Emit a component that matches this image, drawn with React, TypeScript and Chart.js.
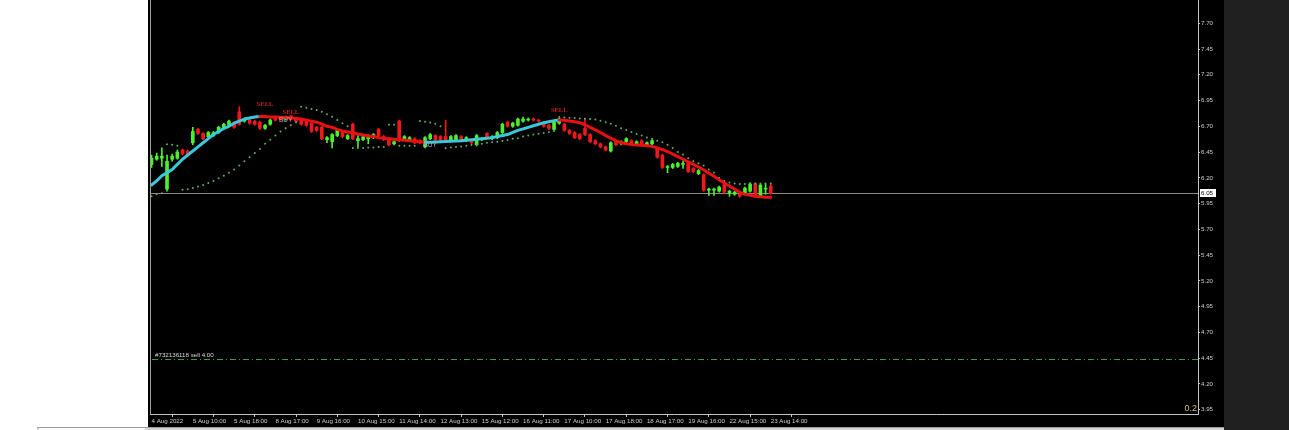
import { useEffect, useRef } from "react";
import { Chart, registerables } from "chart.js";

Chart.register(...registerables);

// ---- data ----
const timeLabels = [
  "4 Aug 2022", "5 Aug 10:00", "5 Aug 18:00", "8 Aug 17:00", "9 Aug 16:00",
  "10 Aug 15:00", "11 Aug 14:00", "12 Aug 13:00", "15 Aug 12:00", "16 Aug 11:00",
  "17 Aug 10:00", "17 Aug 18:00", "18 Aug 17:00", "19 Aug 16:00", "22 Aug 15:00",
  "23 Aug 14:00",
];
const tickBars = [0, 8, 16, 24, 32, 40, 48, 56, 64, 72, 80, 88, 96, 104, 112, 120];
const yTicks = [3.95, 4.2, 4.45, 4.7, 4.95, 5.2, 5.45, 5.7, 5.95, 6.2, 6.45, 6.7, 6.95, 7.2, 7.45, 7.7];

const opens = [
  6.33, 6.38, 6.39, 6.09, 6.38, 6.39, 6.47, 6.46, 6.54, 6.67,
  6.63, 6.60, 6.61, 6.64, 6.68, 6.71, 6.73, 6.84, 6.75, 6.76,
  6.75, 6.74, 6.68, 6.72, 6.78, 6.78, 6.77, 6.80, 6.78, 6.77,
  6.76, 6.73, 6.69, 6.69, 6.57, 6.55, 6.61, 6.65, 6.58, 6.72,
  6.56, 6.57, 6.58, 6.59, 6.67, 6.60, 6.57, 6.53, 6.75, 6.57,
  6.57, 6.58, 6.56, 6.50, 6.58, 6.61, 6.60, 6.60, 6.56, 6.57,
  6.60, 6.56, 6.56, 6.52, 6.57, 6.63, 6.58, 6.59, 6.64, 6.74,
  6.70, 6.71, 6.75, 6.76, 6.77, 6.76, 6.73, 6.71, 6.67, 6.73,
  6.72, 6.66, 6.64, 6.62, 6.68, 6.62, 6.56, 6.53, 6.50, 6.46,
  6.55, 6.53, 6.55, 6.56, 6.53, 6.56, 6.52, 6.53, 6.48, 6.42,
  6.30, 6.30, 6.31, 6.33, 6.34, 6.29, 6.24, 6.23, 6.08, 6.08,
  6.07, 6.14, 6.05, 6.04, 6.04, 6.05, 6.07, 6.14, 6.02, 6.09,
  6.12,
];
const highs = [
  6.42, 6.44, 6.49, 6.42, 6.43, 6.47, 6.48, 6.47, 6.69, 6.68,
  6.64, 6.65, 6.65, 6.70, 6.73, 6.76, 6.74, 6.89, 6.78, 6.77,
  6.76, 6.75, 6.72, 6.77, 6.79, 6.79, 6.80, 6.81, 6.79, 6.78,
  6.77, 6.74, 6.70, 6.70, 6.60, 6.63, 6.67, 6.66, 6.62, 6.73,
  6.61, 6.61, 6.62, 6.63, 6.68, 6.61, 6.58, 6.56, 6.76, 6.61,
  6.60, 6.59, 6.57, 6.60, 6.63, 6.62, 6.61, 6.76, 6.61, 6.62,
  6.61, 6.60, 6.57, 6.62, 6.59, 6.64, 6.61, 6.65, 6.73, 6.75,
  6.74, 6.78, 6.79, 6.78, 6.78, 6.77, 6.74, 6.72, 6.75, 6.78,
  6.73, 6.67, 6.65, 6.63, 6.78, 6.63, 6.57, 6.54, 6.51, 6.55,
  6.56, 6.56, 6.59, 6.57, 6.56, 6.57, 6.55, 6.57, 6.49, 6.43,
  6.32, 6.34, 6.35, 6.36, 6.35, 6.30, 6.28, 6.24, 6.10, 6.10,
  6.12, 6.15, 6.08, 6.07, 6.05, 6.11, 6.15, 6.15, 6.14, 6.14,
  6.14,
];
const lows = [
  6.30, 6.37, 6.31, 6.07, 6.36, 6.38, 6.42, 6.41, 6.52, 6.62,
  6.57, 6.59, 6.60, 6.63, 6.67, 6.70, 6.68, 6.71, 6.74, 6.72,
  6.71, 6.67, 6.67, 6.71, 6.75, 6.76, 6.76, 6.76, 6.74, 6.71,
  6.70, 6.64, 6.65, 6.57, 6.54, 6.49, 6.60, 6.59, 6.57, 6.57,
  6.50, 6.56, 6.53, 6.58, 6.60, 6.56, 6.51, 6.52, 6.55, 6.56,
  6.56, 6.53, 6.53, 6.49, 6.57, 6.56, 6.56, 6.56, 6.55, 6.56,
  6.56, 6.55, 6.53, 6.51, 6.56, 6.58, 6.57, 6.58, 6.63, 6.69,
  6.69, 6.70, 6.74, 6.75, 6.75, 6.74, 6.69, 6.67, 6.66, 6.72,
  6.65, 6.62, 6.58, 6.57, 6.61, 6.54, 6.52, 6.49, 6.46, 6.45,
  6.51, 6.52, 6.54, 6.52, 6.52, 6.51, 6.51, 6.52, 6.39, 6.29,
  6.25, 6.29, 6.30, 6.29, 6.25, 6.25, 6.23, 6.07, 6.03, 6.03,
  6.06, 6.05, 6.02, 6.03, 6.01, 6.04, 6.06, 6.01, 6.01, 6.04,
  6.04,
];
const closes = [
  6.39, 6.41, 6.41, 6.36, 6.41, 6.45, 6.43, 6.42, 6.65, 6.63,
  6.58, 6.64, 6.64, 6.69, 6.72, 6.75, 6.69, 6.72, 6.77, 6.73,
  6.72, 6.68, 6.71, 6.76, 6.76, 6.765, 6.79, 6.77, 6.75, 6.72,
  6.71, 6.65, 6.66, 6.58, 6.59, 6.62, 6.66, 6.60, 6.61, 6.58,
  6.58, 6.60, 6.61, 6.62, 6.61, 6.57, 6.52, 6.55, 6.56, 6.60,
  6.59, 6.54, 6.54, 6.59, 6.62, 6.57, 6.57, 6.57, 6.60, 6.61,
  6.57, 6.59, 6.54, 6.61, 6.58, 6.59, 6.60, 6.64, 6.72, 6.70,
  6.73, 6.77, 6.77, 6.77, 6.76, 6.75, 6.70, 6.68, 6.74, 6.77,
  6.66, 6.63, 6.59, 6.58, 6.62, 6.55, 6.53, 6.50, 6.47, 6.54,
  6.52, 6.55, 6.58, 6.53, 6.55, 6.52, 6.54, 6.56, 6.40, 6.30,
  6.31, 6.33, 6.34, 6.34, 6.26, 6.26, 6.27, 6.08, 6.09, 6.09,
  6.11, 6.06, 6.07, 6.06, 6.02, 6.10, 6.14, 6.02, 6.13, 6.10,
  6.05,
];
const maValues = [
  6.13, 6.17, 6.22, 6.25, 6.28, 6.33, 6.38, 6.42, 6.46, 6.50,
  6.54, 6.58, 6.62, 6.65, 6.68, 6.70, 6.73, 6.75, 6.77, 6.78,
  6.79, 6.795, 6.794, 6.79, 6.789, 6.787, 6.785, 6.78, 6.775, 6.77,
  6.76, 6.75, 6.74, 6.72, 6.70, 6.69, 6.67, 6.655, 6.645, 6.635,
  6.625, 6.615, 6.605, 6.60, 6.59, 6.585, 6.58, 6.575, 6.57, 6.565,
  6.56, 6.555, 6.55, 6.545, 6.546, 6.548, 6.55, 6.552, 6.555, 6.558,
  6.56, 6.565, 6.57, 6.575, 6.58, 6.585, 6.59, 6.60, 6.61, 6.62,
  6.64, 6.66, 6.675, 6.69, 6.705, 6.72, 6.735, 6.745, 6.755, 6.76,
  6.758, 6.752, 6.745, 6.735, 6.715, 6.69, 6.665, 6.64, 6.61, 6.585,
  6.56, 6.54, 6.53, 6.522, 6.518, 6.515, 6.51, 6.505, 6.49, 6.475,
  6.455, 6.43, 6.405, 6.38, 6.355, 6.33, 6.305, 6.275, 6.245, 6.215,
  6.18, 6.15, 6.12, 6.09, 6.06, 6.04, 6.03, 6.02, 6.015, 6.012,
  6.01,
];
const sarValues = [
  6.02, 6.04, 6.05, 6.525, 6.52, 6.51, 6.085, 6.09, 6.10, 6.115,
  6.13, 6.15, 6.17, 6.195, 6.22, 6.25, 6.28, 6.32, 6.36, 6.40,
  6.44, 6.48, 6.53, 6.57, 6.61, 6.65, 6.68, 6.71, 6.74, 6.89,
  6.88, 6.868, 6.858, 6.842, 6.816, 6.793, 6.761, 6.729, 6.70, 6.49,
  6.49, 6.49, 6.495, 6.495, 6.50, 6.50, 6.715, 6.715, 6.51, 6.51,
  6.512, 6.512, 6.752, 6.745, 6.738, 6.725, 6.70, 6.486, 6.493, 6.50,
  6.505, 6.512, 6.518, 6.525, 6.53, 6.54, 6.545, 6.55, 6.557, 6.567,
  6.58, 6.585, 6.60, 6.61, 6.62, 6.627, 6.635, 6.642, 6.655, 6.79,
  6.785, 6.783, 6.78, 6.775, 6.772, 6.77, 6.765, 6.755, 6.74, 6.725,
  6.706, 6.68, 6.665, 6.645, 6.625, 6.61, 6.59, 6.58, 6.56, 6.545,
  6.52, 6.49, 6.45, 6.425, 6.39, 6.36, 6.34, 6.32, 6.28, 6.25,
  6.20, 6.17, 6.155, 6.145, 6.14, 6.14, 6.145, 6.145, 6.145, 6.145,
  6.145,
];
const signalBars = [22, 27, 26, 54, 79];
const signalPrices = [6.917, 6.84, 6.755, 6.512, 6.858];
const signalTexts = ["SELL", "SELL", "BUY", "BUY", "SELL"];
const orderPrice = 4.445;
const orderLabel = "#732136118 sell 4.00";
const cornerText = "0.2";

// ---- styles ----
const W = 1289;
const H = 430;
const GREEN = "#4cf02c";
const RED = "#f01818";
const CYAN = "#3cc8dc";
const MA_RED = "#e81010";
const SAR_COLOR = "#5fae5f";
const AXIS_TEXT = "#cfcfcf";
const AXIS_LINE = "#c4c4c4";
const SMALL_FONT = { family: "Liberation Sans", size: 6.2 };

const overlay = {
  id: "mt4overlay",
  beforeDraw(chart: any) {
    const c = chart.ctx;
    c.save();
    c.fillStyle = "#ffffff";
    c.fillRect(0, 0, W, H);
    c.fillStyle = "#000000";
    c.fillRect(148, 0, 1076, 427);
    c.fillStyle = "#202020";
    c.fillRect(1224, 0, W - 1224, H);
    c.fillStyle = "#d2d2d2";
    c.fillRect(37, 427, 1224 - 37, 3);
    c.fillStyle = "#9a9a9a";
    c.fillRect(37, 427, 1224 - 37, 1);
    c.fillStyle = "#ffffff";
    c.fillRect(39, 428, 106, 2);
    c.restore();
  },
  beforeDatasetsDraw(chart: any) {
    const c = chart.ctx;
    const a = chart.chartArea;
    const ys = chart.scales.y;
    c.save();
    // current price line
    const py = Math.round(ys.getPixelForValue(closes[closes.length - 1])) + 0.5;
    c.strokeStyle = "#8a8a8a";
    c.lineWidth = 1;
    c.beginPath();
    c.moveTo(a.left, py);
    c.lineTo(a.right, py);
    c.stroke();
    // order line (dash-dot)
    const oy = Math.round(ys.getPixelForValue(orderPrice)) + 0.5;
    c.strokeStyle = "#35a035";
    c.setLineDash([6, 3, 1, 3]);
    c.beginPath();
    c.moveTo(a.left + 2, oy);
    c.lineTo(a.right, oy);
    c.stroke();
    c.restore();
  },
  afterDraw(chart: any) {
    const c = chart.ctx;
    const a = chart.chartArea;
    const xs = chart.scales.x;
    const ys = chart.scales.y;
    c.save();
    // left border
    c.strokeStyle = "#9c9c9c";
    c.lineWidth = 1;
    c.beginPath();
    c.moveTo(150.5, 0);
    c.lineTo(150.5, a.bottom + 0.5);
    c.stroke();
    // signals
    c.textAlign = "center";
    c.textBaseline = "middle";
    signalTexts.forEach((t, i) => {
      const x = xs.getPixelForValue(signalBars[i]);
      const y = ys.getPixelForValue(signalPrices[i]);
      if (t === "SELL") {
        c.fillStyle = "#c81e1e";
        c.font = 'bold 6.5px "Liberation Serif"';
      } else {
        c.fillStyle = "#a6b0c0";
        c.font = '6.5px "Liberation Sans"';
      }
      c.fillText(t, x, y);
    });
    // order label
    const oy = ys.getPixelForValue(orderPrice);
    c.textAlign = "left";
    c.textBaseline = "bottom";
    c.fillStyle = "#d8d8d8";
    c.font = '6.2px "Liberation Sans"';
    c.fillText(orderLabel, 155, oy);
    // price box on axis
    const last = closes[closes.length - 1];
    const py = Math.round(ys.getPixelForValue(last));
    c.fillStyle = "#ffffff";
    c.fillRect(a.right + 2, py - 4, 16, 8);
    c.fillStyle = "#000000";
    c.textBaseline = "middle";
    c.fillText(last.toFixed(2), a.right + 3, py + 0.5);
    // corner text
    c.fillStyle = "#c8c85a";
    c.font = '9px "Liberation Sans"';
    c.textAlign = "right";
    c.textBaseline = "bottom";
    c.fillText(cornerText, a.right - 1, a.bottom - 1);
    c.restore();
  },
};

export default function App() {
  const ref = useRef<HTMLCanvasElement | null>(null);

  useEffect(() => {
    if (!ref.current) return;
    const idx = opens.map((_, i) => i);
    const colors = idx.map((i) => (closes[i] >= opens[i] ? GREEN : RED));
    const chart = new Chart(ref.current, {
      type: "bar",
      data: {
        datasets: [
          {
            type: "line",
            label: "MA",
            data: idx.map((i) => ({ x: i, y: maValues[i] })),
            borderColor: CYAN,
            borderWidth: 3,
            pointRadius: 0,
            tension: 0,
            borderCapStyle: "round",
            borderJoinStyle: "round",
            segment: {
              borderColor: (s: any) => (s.p1.parsed.y >= s.p0.parsed.y ? CYAN : MA_RED),
            },
            order: 0,
          } as any,
          {
            type: "line",
            label: "SAR",
            data: idx.map((i) => ({ x: i, y: sarValues[i] })),
            showLine: false,
            pointRadius: 1,
            pointBorderWidth: 0,
            pointBackgroundColor: SAR_COLOR,
            order: 1,
          } as any,
          {
            type: "bar",
            label: "body",
            data: idx.map((i) => ({ x: i, y: [opens[i], closes[i]] })),
            backgroundColor: colors,
            barThickness: 3,
            minBarLength: 1,
            grouped: false,
            order: 2,
          } as any,
          {
            type: "bar",
            label: "wick",
            data: idx.map((i) => ({ x: i, y: [lows[i], highs[i]] })),
            backgroundColor: colors,
            barThickness: 1,
            grouped: false,
            order: 3,
          } as any,
        ],
      },
      options: {
        responsive: false,
        animation: false,
        devicePixelRatio: 1,
        layout: { autoPadding: false, padding: { left: 150, right: 65, top: 0, bottom: 3 } },
        plugins: { legend: { display: false }, tooltip: { enabled: false } },
        events: [],
        scales: {
          x: {
            type: "linear",
            min: -0.3,
            max: 202.8,
            offset: false,
            afterBuildTicks: (s: any) => {
              s.ticks = tickBars.map((v) => ({ value: v }));
            },
            afterFit: (s: any) => {
              s.height = 13;
              s.paddingLeft = 0;
              s.paddingRight = 0;
            },
            ticks: {
              autoSkip: false,
              maxRotation: 0,
              minRotation: 0,
              align: "start",
              color: AXIS_TEXT,
              font: SMALL_FONT,
              padding: 1,
              callback: (v: any) => {
                const k = tickBars.indexOf(Number(v));
                return k >= 0 ? timeLabels[k] : "";
              },
            },
            grid: { drawOnChartArea: false, drawTicks: true, tickLength: 3, color: AXIS_LINE },
            border: { display: true, color: AXIS_LINE, width: 1 },
          },
          y: {
            type: "linear",
            position: "right",
            min: 3.907,
            max: 7.926,
            afterBuildTicks: (s: any) => {
              s.ticks = yTicks.map((v) => ({ value: v }));
            },
            afterFit: (s: any) => {
              s.width = 26;
              s.paddingTop = 0;
              s.paddingBottom = 0;
            },
            ticks: {
              color: AXIS_TEXT,
              font: SMALL_FONT,
              padding: 1,
              callback: (v: any) => Number(v).toFixed(2),
            },
            grid: { drawOnChartArea: false, drawTicks: true, tickLength: 2, color: AXIS_LINE },
            border: { display: true, color: AXIS_LINE, width: 1 },
          },
        },
      } as any,
      plugins: [overlay],
    });
    return () => chart.destroy();
  }, []);

  return (
    <div style={{ position: "fixed", left: 0, top: 0, width: W, height: H, background: "#ffffff" }}>
      <canvas ref={ref} width={W} height={H} style={{ display: "block", width: W, height: H }} />
    </div>
  );
}
